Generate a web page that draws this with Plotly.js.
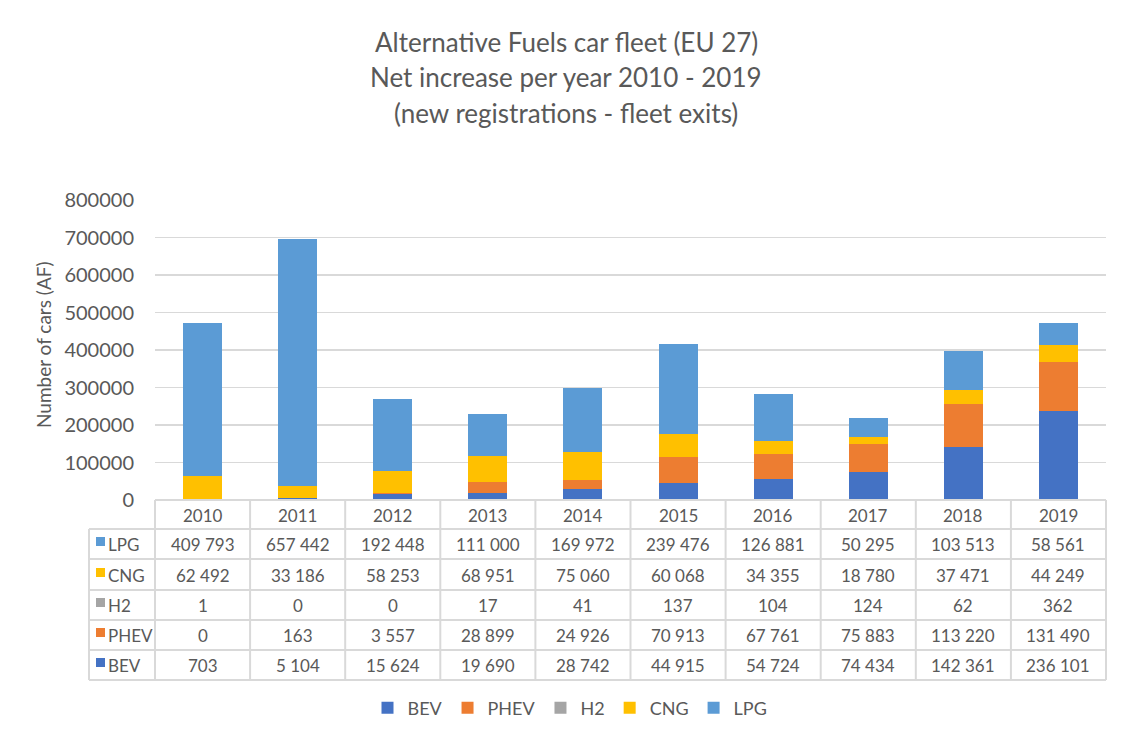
<!DOCTYPE html>
<html>
<head>
<meta charset="utf-8">
<script src="https://cdn.plot.ly/plotly-3.0.1.min.js"></script>
<style>html,body{margin:0;padding:0;background:#fff;}#chart{width:1129px;height:743px;}</style>
</head>
<body>
<div id="chart"></div>
<script>
const years = ['2010','2011','2012','2013','2014','2015','2016','2017','2018','2019'];
const BEV  = [703, 5104, 15624, 19690, 28742, 44915, 54724, 74434, 142361, 236101];
const PHEV = [0, 163, 3557, 28899, 24926, 70913, 67761, 75883, 113220, 131490];
const H2   = [1, 0, 0, 17, 41, 137, 104, 124, 62, 362];
const CNG  = [62492, 33186, 58253, 68951, 75060, 60068, 34355, 18780, 37471, 44249];
const LPG  = [409793, 657442, 192448, 111000, 169972, 239476, 126881, 50295, 103513, 58561];
const yTicks = [0, 100000, 200000, 300000, 400000, 500000, 600000, 700000, 800000];
const titleLines = ['Alternative Fuels car fleet (EU 27)', 'Net increase per year 2010 - 2019', '(new registrations - fleet exits)'];

const seriesNames = ['BEV','PHEV','H2','CNG','LPG'];
const seriesData = {BEV: BEV, PHEV: PHEV, H2: H2, CNG: CNG, LPG: LPG};
const colors = {BEV:'#4472C4', PHEV:'#ED7D31', H2:'#A5A5A5', CNG:'#FFC000', LPG:'#5B9BD5'};
const tableRows = ['LPG','CNG','H2','PHEV','BEV'];

const font = 'Lato, "Open Sans", sans-serif';
const textColor = '#595959';
const gridColor = '#D9D9D9';

function fmt(v){ return String(v).replace(/\B(?=(\d{3})+(?!\d))/g, ' '); }

const traces = seriesNames.map(n => ({
  type: 'bar', name: n, x: years, y: seriesData[n],
  marker: {color: colors[n], line: {width: 0}},
  hoverinfo: 'skip'
}));

const plotH = 300;
const L = 155, R = 1106, W = R - L;
function py(p){ return (500 - p) / plotH; }
function px(p){ return (p - L) / W; }

const rowLines = [529, 559, 590, 620, 650, 680];
const rowCenters = [544, 575, 605, 635, 665];

const shapes = [];
const annotations = [];
const lineStyle = {color: gridColor, width: 2};

shapes.push({type:'line', xref:'paper', yref:'paper', x0:0, x1:1, y0:py(500), y1:py(500), line:lineStyle});
for (let i = 0; i <= years.length; i++) {
  shapes.push({type:'line', xref:'paper', yref:'paper', x0:i/years.length, x1:i/years.length, y0:py(500), y1:py(680), line:lineStyle});
}
shapes.push({type:'line', xref:'paper', yref:'paper', x0:px(89), x1:px(89), y0:py(529), y1:py(680), line:lineStyle});
rowLines.forEach(r => {
  shapes.push({type:'line', xref:'paper', yref:'paper', x0:px(89), x1:1, y0:py(r), y1:py(r), line:lineStyle});
});

years.forEach((yr, ci) => {
  annotations.push({xref:'x', yref:'paper', x:ci, y:py(515), text:yr, showarrow:false,
    font:{family:font, size:17, color:textColor}, xanchor:'center', yanchor:'middle'});
});
tableRows.forEach((n, ri) => {
  const yc = py(rowCenters[ri]);
  shapes.push({type:'rect', xref:'paper', yref:'paper', x0:px(96), x1:px(105), y0:yc-2/plotH, y1:yc+7/plotH,
    fillcolor:colors[n], line:{width:0}});
  annotations.push({xref:'paper', yref:'paper', x:px(106), y:yc, text:n, showarrow:false,
    font:{family:font, size:17, color:textColor}, xanchor:'left', yanchor:'middle'});
  seriesData[n].forEach((v, ci) => {
    annotations.push({xref:'x', yref:'paper', x:ci, y:yc, text:fmt(v), showarrow:false,
      font:{family:font, size:17, color:textColor}, xanchor:'center', yanchor:'middle'});
  });
});

annotations.push({xref:'paper', yref:'paper', x:px(43), y:py(345), text:'Number of cars (AF)', textangle:-90,
  showarrow:false, font:{family:font, size:19, color:textColor}, xanchor:'center', yanchor:'middle'});

const titleY = [42, 77, 113];
titleLines.forEach((t, i) => {
  annotations.push({xref:'paper', yref:'paper', x:px(566), y:py(titleY[i]), text:t, showarrow:false,
    font:{family:font, size:26, color:textColor}, xanchor:'center', yanchor:'middle'});
});

const layout = {
  width: 1129, height: 743,
  margin: {l: L, r: 1129 - R, t: 200, b: 243, pad: 0},
  paper_bgcolor: '#fff', plot_bgcolor: '#fff',
  barmode: 'stack', bargap: 0.59,
  font: {family: font, color: textColor},
  xaxis: {type: 'category', range: [-0.5, years.length - 0.5], autorange: false, showticklabels: false, showgrid: false,
    zeroline: false, showline: false, ticks: ''},
  yaxis: {range: [0, 800000], autorange: false, tickvals: yTicks, ticktext: yTicks.map(String), showgrid: true, gridcolor: gridColor, gridwidth: 1.5,
    zeroline: false, showline: false, ticks: '', ticklabelstandoff: 20,
    tickfont: {family: font, size: 20, color: textColor}},
  showlegend: true,
  legend: {orientation: 'h', x: px(570), xanchor: 'center', y: py(708), yanchor: 'middle',
    font: {family: font, size: 18, color: textColor}, traceorder: 'normal'},
  shapes: shapes,
  annotations: annotations
};

Plotly.newPlot('chart', traces, layout, {displayModeBar: false, staticPlot: true});
</script>
</body>
</html>
